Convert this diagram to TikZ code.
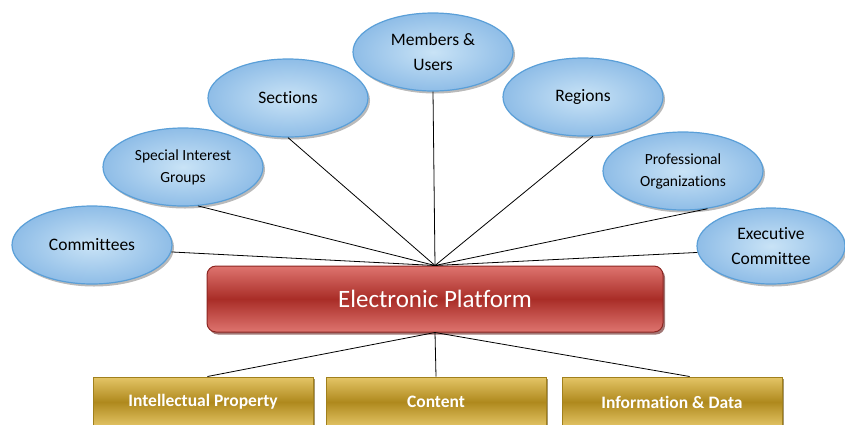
\documentclass[tikz,border=0pt]{standalone}
\usepackage{fontspec}
\setmainfont{Carlito}[Ligatures={NoCommon,NoRare,NoDiscretionary}]
\usetikzlibrary{shadows,calc,shapes.geometric}
\definecolor{ellborder}{HTML}{5A9FD8}
\definecolor{ellin}{HTML}{C9E3F6}
\definecolor{ellout}{HTML}{8FBDE7}
\definecolor{redtop}{HTML}{DE746F}
\definecolor{redmid}{HTML}{A92D27}
\definecolor{redborder}{HTML}{8C2622}
\definecolor{goldtop}{HTML}{E4C567}
\definecolor{goldmid}{HTML}{AF891D}
\definecolor{goldborder}{HTML}{A1801C}
\tikzset{
  bubble/.style={ellipse, draw=ellborder, line width=1.2pt, inner color=ellin, outer color=ellout,
    minimum width=160pt, minimum height=78pt, align=center, text=black, inner sep=0pt,
    drop shadow={shadow xshift=2pt, shadow yshift=-2.5pt, opacity=0.45, fill=black!60}},
  bigtxt/.style={font=\fontsize{17.5}{25}\selectfont},
  smalltxt/.style={font=\fontsize{15.5}{22}\selectfont},
  platform/.style={draw=redborder, line width=1pt, rounded corners=9pt,
    top color=redtop, bottom color=redtop, middle color=redmid,
    minimum width=456pt, minimum height=66pt, text=white, font=\fontsize{25}{30}\selectfont,
    drop shadow={shadow xshift=2pt, shadow yshift=-2.5pt, opacity=0.6, fill=redborder!70!black}},
  goldbox/.style={draw=goldborder, line width=1pt, top color=goldtop, bottom color=goldtop, middle color=goldmid,
    minimum width=220pt, minimum height=50pt, text=white, font=\bfseries\fontsize{17.5}{20}\selectfont,
    drop shadow={shadow xshift=2pt, shadow yshift=-1.5pt, opacity=0.6, fill=goldmid!60!black}},
  link/.style={draw=black, line width=0.8pt}
}
\begin{document}
\begin{tikzpicture}[x=1pt,y=-1pt]
\useasboundingbox (0,0) rectangle (845,424);
\clip (0,0) rectangle (845,424);
% ellipses
\node[bubble, bigtxt] (com) at (92,245) {Committees};
\node[bubble, smalltxt] (sig) at (183,167) {Special Interest\\Groups};
\node[bubble, bigtxt] (sec) at (288,98) {Sections};
\node[bubble, bigtxt] (mem) at (433,52) {Members \&\\Users};
\node[bubble, bigtxt] (reg) at (583,97) {Regions};
\node[bubble, smalltxt] (pro) at (683,171) {Professional\\Organizations};
\node[bubble, bigtxt, minimum width=148pt, minimum height=76pt] (exe) at (771,246) {Executive\\Committee};
% platform
\node[platform] (plat) at (435,299) {Electronic Platform};
% gold boxes
\node[goldbox] (ip) at (203,402) {Intellectual Property};
\node[goldbox] (con) at (436,402) {Content};
\node[goldbox] (inf) at (672,402) {Information \& Data};
% connectors
\coordinate (hub) at (plat.north);
\coordinate (hubb) at (plat.south);
\draw[link] (com.-5) -- (hub);
\draw[link] (sig.-69) -- (hub);
\draw[link] (sec.south) -- (hub);
\draw[link] (mem.south) -- (hub);
\draw[link] (reg.-76) -- (hub);
\draw[link] (pro.-57) -- (hub);
\draw[link] (exe.185) -- (hub);
\draw[link] (hubb) -- ($(ip.north west)!0.52!(ip.north east)$);
\draw[link] (hubb) -- (con.north);
\draw[link] (hubb) -- ($(inf.north west)!0.58!(inf.north east)$);
\end{tikzpicture}
\end{document}
